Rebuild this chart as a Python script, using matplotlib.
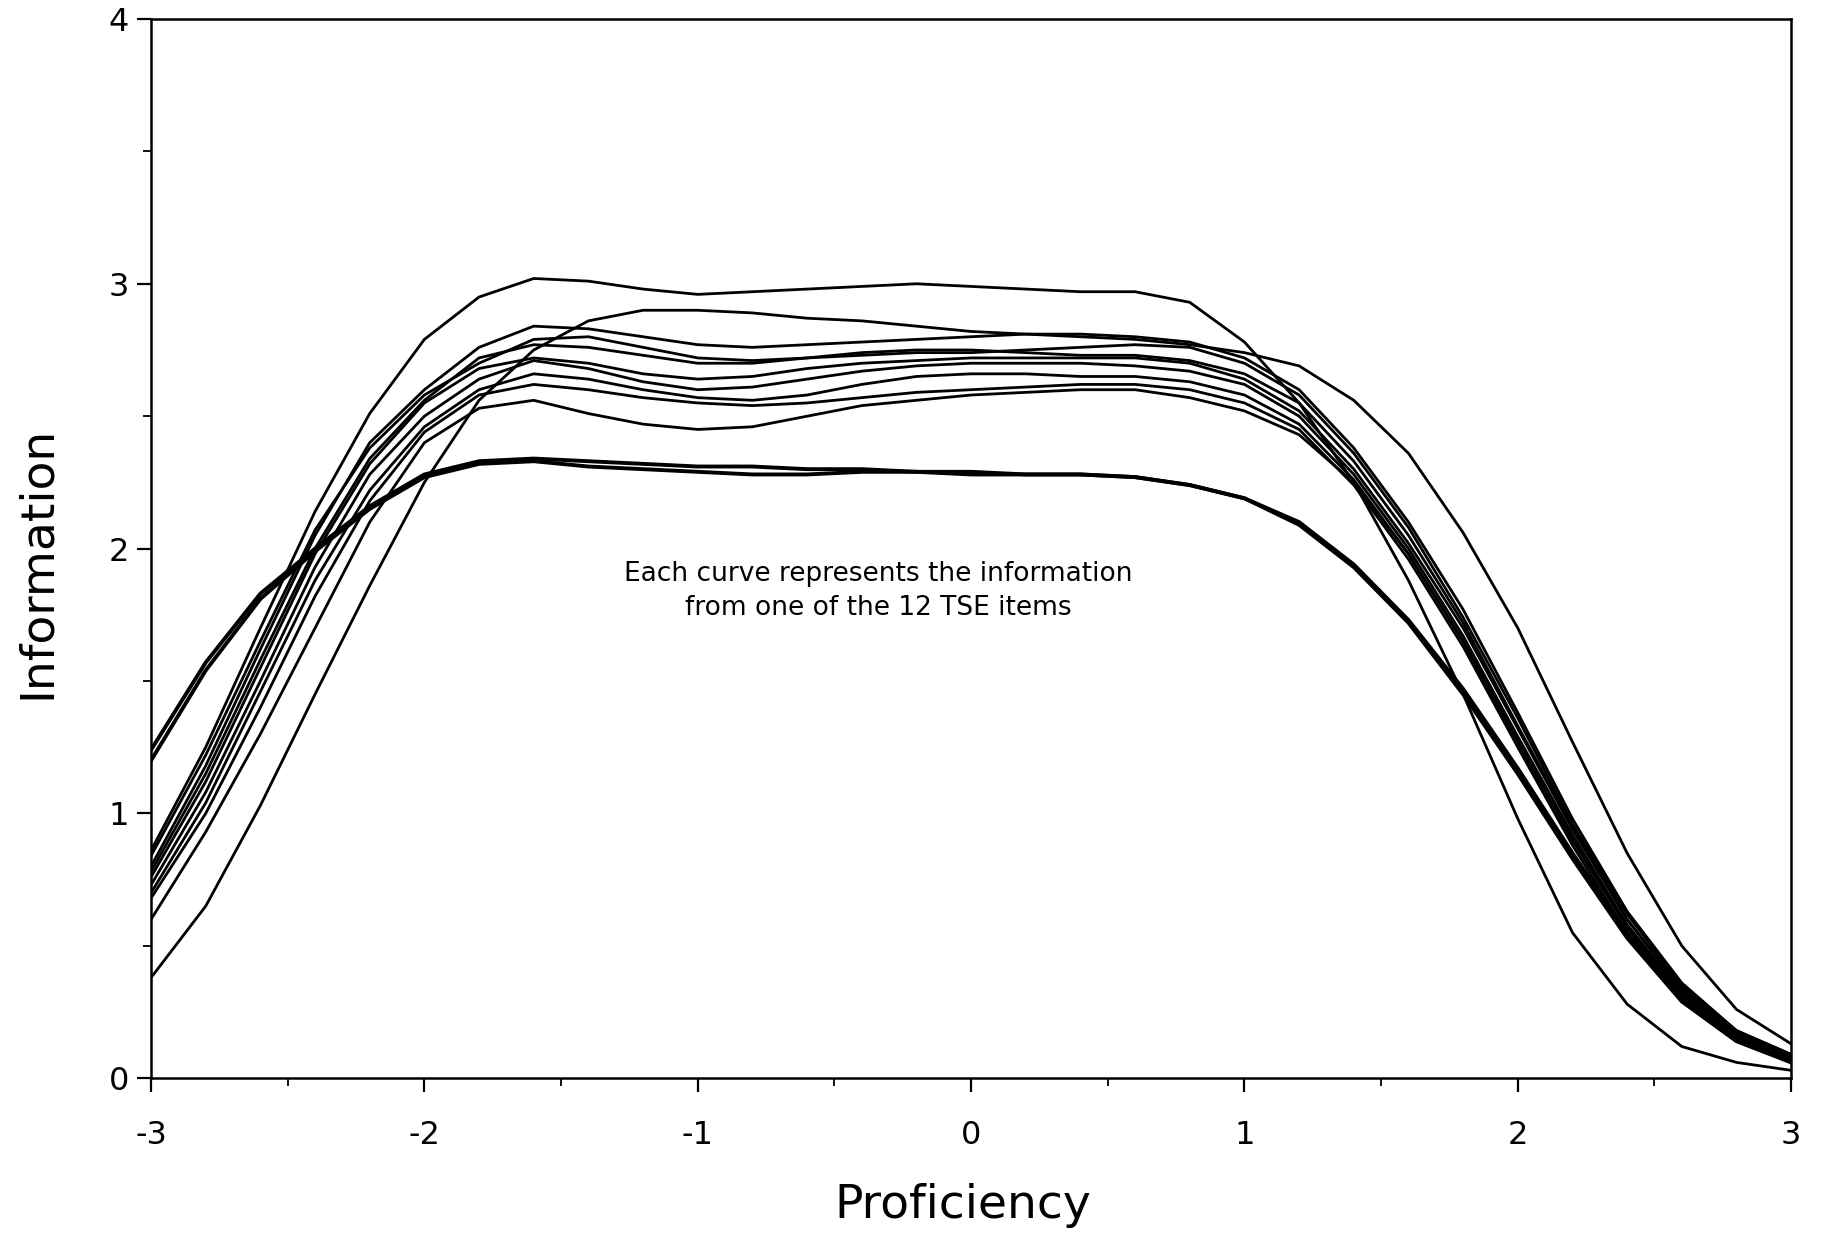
import numpy as np
import matplotlib.pyplot as plt

# proficiency grid, step 0.2
theta = [round(-3 + 0.2 * i, 1) for i in range(31)]

# item information curves (12 TSE items)
item_a = [0.86, 1.25, 1.70, 2.14, 2.51, 2.79, 2.95, 3.02, 3.01, 2.98, 2.96, 2.97, 2.98, 2.99, 3.00, 2.99,
          2.98, 2.97, 2.97, 2.93, 2.78, 2.55, 2.25, 1.88, 1.45, 0.98, 0.55, 0.28, 0.12, 0.06, 0.03]
item_b = [0.38, 0.65, 1.03, 1.45, 1.86, 2.25, 2.56, 2.75, 2.86, 2.90, 2.90, 2.89, 2.87, 2.86, 2.84, 2.82,
          2.81, 2.80, 2.79, 2.77, 2.74, 2.69, 2.56, 2.36, 2.06, 1.70, 1.27, 0.85, 0.50, 0.26, 0.13]
item_c = [0.60, 0.93, 1.30, 1.70, 2.10, 2.40, 2.53, 2.56, 2.51, 2.47, 2.45, 2.46, 2.50, 2.54, 2.56, 2.58,
          2.59, 2.60, 2.60, 2.57, 2.52, 2.43, 2.25, 1.98, 1.65, 1.27, 0.90, 0.57, 0.31, 0.15, 0.07]
item_d = [1.24, 1.57, 1.83, 2.00, 2.16, 2.28, 2.33, 2.34, 2.33, 2.32, 2.31, 2.31, 2.30, 2.30, 2.29, 2.29,
          2.28, 2.28, 2.27, 2.24, 2.19, 2.10, 1.94, 1.73, 1.47, 1.17, 0.85, 0.55, 0.30, 0.15, 0.07]
item_e = [1.20, 1.54, 1.81, 1.99, 2.15, 2.27, 2.32, 2.33, 2.31, 2.30, 2.29, 2.28, 2.28, 2.29, 2.29, 2.28,
          2.28, 2.28, 2.27, 2.24, 2.19, 2.09, 1.93, 1.72, 1.45, 1.15, 0.83, 0.53, 0.29, 0.14, 0.06]
item_f = [0.80, 1.18, 1.62, 2.05, 2.40, 2.60, 2.76, 2.84, 2.83, 2.80, 2.77, 2.76, 2.77, 2.78, 2.79, 2.80,
          2.81, 2.81, 2.80, 2.78, 2.72, 2.60, 2.38, 2.10, 1.77, 1.38, 0.98, 0.63, 0.36, 0.18, 0.09]
item_g = [0.84, 1.22, 1.65, 2.07, 2.38, 2.58, 2.70, 2.79, 2.80, 2.76, 2.72, 2.71, 2.72, 2.74, 2.75, 2.75,
          2.74, 2.73, 2.73, 2.71, 2.66, 2.55, 2.33, 2.05, 1.72, 1.33, 0.95, 0.60, 0.34, 0.17, 0.08]
item_h = [0.76, 1.12, 1.55, 1.98, 2.32, 2.55, 2.68, 2.72, 2.70, 2.66, 2.64, 2.65, 2.68, 2.70, 2.71, 2.72,
          2.72, 2.72, 2.72, 2.70, 2.64, 2.52, 2.30, 2.02, 1.70, 1.32, 0.94, 0.60, 0.33, 0.17, 0.08]
item_i = [0.73, 1.08, 1.50, 1.93, 2.28, 2.50, 2.64, 2.71, 2.68, 2.63, 2.60, 2.61, 2.64, 2.67, 2.69, 2.70,
          2.70, 2.70, 2.69, 2.67, 2.62, 2.50, 2.28, 2.00, 1.67, 1.29, 0.92, 0.58, 0.32, 0.16, 0.07]
item_j = [0.70, 1.04, 1.46, 1.88, 2.22, 2.46, 2.60, 2.66, 2.64, 2.60, 2.57, 2.56, 2.58, 2.62, 2.65, 2.66,
          2.66, 2.65, 2.65, 2.63, 2.58, 2.47, 2.26, 1.98, 1.65, 1.27, 0.90, 0.57, 0.31, 0.15, 0.07]
item_k = [0.68, 1.00, 1.40, 1.82, 2.18, 2.44, 2.58, 2.62, 2.60, 2.57, 2.55, 2.54, 2.55, 2.57, 2.59, 2.60,
          2.61, 2.62, 2.62, 2.60, 2.55, 2.45, 2.24, 1.96, 1.63, 1.25, 0.88, 0.55, 0.30, 0.14, 0.06]
item_l = [0.78, 1.15, 1.58, 2.00, 2.34, 2.56, 2.72, 2.77, 2.76, 2.73, 2.70, 2.70, 2.72, 2.73, 2.74, 2.74,
          2.75, 2.76, 2.77, 2.76, 2.70, 2.58, 2.36, 2.08, 1.74, 1.36, 0.96, 0.62, 0.35, 0.18, 0.09]

thin_items = [item_a, item_b, item_c, item_f, item_g, item_h, item_i, item_j, item_k, item_l]
thick_items = [item_d, item_e]

x_ticks = [-3, -2, -1, 0, 1, 2, 3]
y_ticks = [0, 1, 2, 3, 4]

fig = plt.figure(figsize=(18.24, 12.38), dpi=100)
ax = fig.add_axes([0.0828, 0.129, 0.8992, 0.8557])

for y in thin_items:
    ax.plot(theta, y, color='black', lw=2.0, solid_joinstyle='miter')
for y in thick_items:
    ax.plot(theta, y, color='black', lw=2.8, solid_joinstyle='miter')

ax.set_xlim(-3, 3)
ax.set_ylim(0, 4)
ax.set_xticks(x_ticks)
ax.set_yticks(y_ticks)
ax.set_xticks(np.arange(-2.5, 3, 1.0), minor=True)
ax.set_yticks(np.arange(0.5, 4, 1.0), minor=True)
ax.set_xticklabels([str(t) for t in x_ticks])
ax.tick_params(axis='x', which='major', direction='out', length=10, width=1.6, labelsize=23, pad=20)
ax.tick_params(axis='y', which='major', direction='out', length=10, width=1.6, labelsize=23, pad=6)
ax.tick_params(which='minor', direction='out', length=6, width=1.3)
for sp in ax.spines.values():
    sp.set_linewidth(1.8)

ax.text(-0.34, 1.84, 'Each curve represents the information\nfrom one of the 12 TSE items',
        ha='center', va='center', fontsize=19, linespacing=1.4)

fig.text(963 / 1824, 1 - 1205 / 1238, 'Proficiency', ha='center', va='center', fontsize=34)
fig.text(37 / 1824, 1 - 562 / 1238, 'Information', ha='center', va='center', fontsize=34, rotation=90)

fig.savefig('out.png', dpi=100)
